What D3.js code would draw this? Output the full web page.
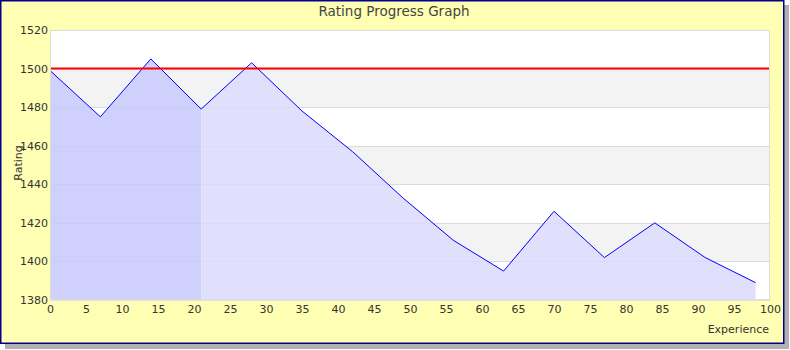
<!DOCTYPE html>
<html>
<head>
<meta charset="utf-8">
<script src="https://cdn.jsdelivr.net/npm/d3@7"></script>
<style>
  body { margin: 0; background: #fff; }
  text { font-family: "DejaVu Sans", sans-serif; }
</style>
</head>
<body>
<div id="chart"></div>
<script>
// data
var experience = [0, 7, 14, 21, 28, 35, 42, 49, 56, 63, 70, 77, 84, 91, 98];
var rating = [1499, 1475, 1505, 1479, 1503, 1478, 1457, 1433, 1411, 1395, 1426, 1402, 1420, 1402, 1389];
var splitAt = 21;       // darker shading up to here
var baseline = 1500;
var yTicks = [1380, 1400, 1420, 1440, 1460, 1480, 1500, 1520];
var xTicks = [0, 5, 10, 15, 20, 25, 30, 35, 40, 45, 50, 55, 60, 65, 70, 75, 80, 85, 90, 95, 100];

var W = 790, H = 350;
var margin = {top: 30, right: 20, bottom: 50, left: 50},
    width = 770 - margin.left,
    height = 300 - margin.top;

var svg = d3.select("#chart").append("svg")
  .attr("width", W).attr("height", H);

// frame shadow + frame
svg.append("rect").attr("x", 5).attr("y", 5).attr("width", 784).attr("height", 344).style("fill", "#b0b0b0");
svg.append("rect").attr("x", 0.75).attr("y", 0.75).attr("width", 783).attr("height", 342.5)
  .style("fill", "#ffffb3").style("stroke", "#00008b").style("stroke-width", 1.5);

svg.append("text")
  .attr("x", 394).attr("y", 16)
  .attr("text-anchor", "middle")
  .style("font-size", "13.5px").style("fill", "#444")
  .text("Rating Progress Graph");

var g = svg.append("g").attr("transform", "translate(" + margin.left + "," + margin.top + ")");

var x = d3.scaleLinear().domain([0, 100]).range([0, width]);
var y = d3.scaleLinear().domain([1380, 1520]).range([height, 0]);

// plot background with alternating bands
g.append("rect").attr("width", width).attr("height", height).style("fill", "#fff");
for (var i = 0; i < yTicks.length - 1; i++) {
  if (i % 2 === 1) {
    g.append("rect")
      .attr("x", 0).attr("y", y(yTicks[i + 1]))
      .attr("width", width).attr("height", y(yTicks[i]) - y(yTicks[i + 1]))
      .style("fill", "#f3f3f3");
  }
}
g.selectAll(".grid").data(yTicks).enter().append("line")
  .attr("x1", 0).attr("x2", width)
  .attr("y1", function(d) { return Math.round(y(d)) + 0.5; })
  .attr("y2", function(d) { return Math.round(y(d)) + 0.5; })
  .style("stroke", "#e0e0e0");

var pts = experience.map(function(d, i) { return {x: d, y: rating[i]}; });

var area = d3.area()
  .x(function(d) { return x(d.x); })
  .y0(height)
  .y1(function(d) { return y(d.y); });

g.append("path")
  .datum(pts.filter(function(d) { return d.x <= splitAt; }))
  .attr("d", area)
  .style("fill", "#d0d0fc");
g.append("path")
  .datum(pts.filter(function(d) { return d.x >= splitAt; }))
  .attr("d", area)
  .style("fill", "#e0e0fc");

// faint grid showing through the fill
g.selectAll(".grid2").data(yTicks.slice(1, -1)).enter().append("line")
  .attr("x1", 0).attr("x2", width)
  .attr("y1", function(d) { return Math.round(y(d)) + 0.5; })
  .attr("y2", function(d) { return Math.round(y(d)) + 0.5; })
  .style("stroke", "#000").style("stroke-opacity", 0.02);

g.append("path")
  .datum(pts)
  .attr("d", d3.line().x(function(d) { return x(d.x); }).y(function(d) { return y(d.y); }))
  .style("fill", "none").style("stroke", "#0000ff").style("stroke-width", 1);

// reference line
g.append("line")
  .attr("x1", 0).attr("x2", width)
  .attr("y1", y(baseline)).attr("y2", y(baseline))
  .style("stroke", "#ff0000").style("stroke-width", 2);

// plot border
g.append("rect").attr("x", 0.5).attr("y", 0.5).attr("width", width - 1).attr("height", height - 1)
  .style("fill", "none").style("stroke", "#dcdcdc");

// axes
var xAxis = g.append("g").attr("transform", "translate(0," + height + ")")
  .call(d3.axisBottom(x).tickValues(xTicks).tickSize(0).tickPadding(5));
var yAxis = g.append("g")
  .call(d3.axisLeft(y).tickValues(yTicks).tickSize(0).tickPadding(2).tickFormat(d3.format("d")));
[xAxis, yAxis].forEach(function(a) {
  a.select(".domain").remove();
  a.selectAll("text").style("font-size", "11px").style("fill", "#333")
    .style("font-family", "'DejaVu Sans', sans-serif");
});

svg.append("text")
  .attr("transform", "translate(22,163) rotate(-90)")
  .attr("text-anchor", "middle")
  .style("font-size", "11px").style("fill", "#333")
  .text("Rating");

svg.append("text")
  .attr("x", 769).attr("y", 333)
  .attr("text-anchor", "end")
  .style("font-size", "11px").style("fill", "#333")
  .text("Experience");
</script>
</body>
</html>
